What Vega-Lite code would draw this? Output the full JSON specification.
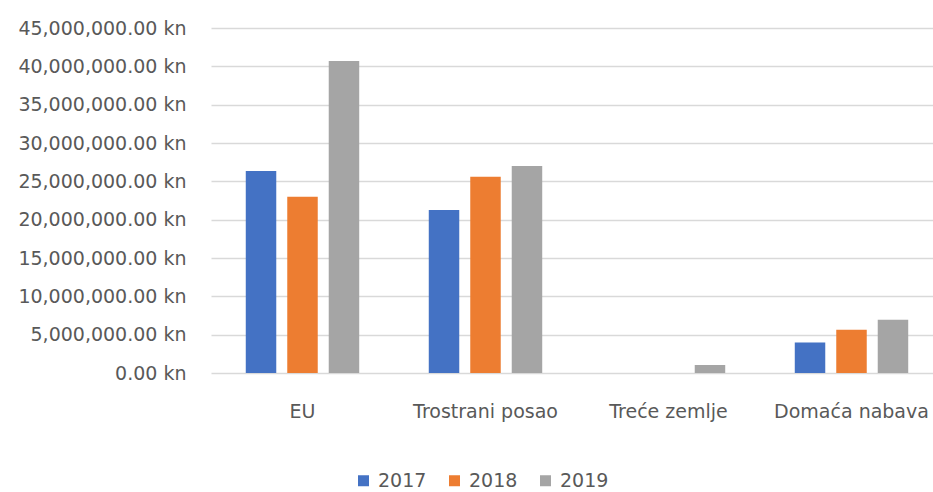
{
  "$schema": "https://vega.github.io/schema/vega-lite/v6.json",
  "autosize": "none",
  "padding": {"left": 211, "top": 28, "right": 0, "bottom": 119},
  "width": 732,
  "height": 345,
  "background": "white",
  "config": {
    "view": {"stroke": null},
    "font": "DejaVu Sans",
    "axis": {"labelColor": "#595959", "labelFont": "DejaVu Sans", "labelFontSize": 19},
    "legend": {"labelColor": "#595959", "labelFont": "DejaVu Sans", "labelFontSize": 19}
  },
  "data": {
    "values": [
      {"category": "EU", "year": "2017", "value": 26340000},
      {"category": "EU", "year": "2018", "value": 22980000},
      {"category": "EU", "year": "2019", "value": 40700000},
      {"category": "Trostrani posao", "year": "2017", "value": 21260000},
      {"category": "Trostrani posao", "year": "2018", "value": 25600000},
      {"category": "Trostrani posao", "year": "2019", "value": 27000000},
      {"category": "Treće zemlje", "year": "2017", "value": 0},
      {"category": "Treće zemlje", "year": "2018", "value": 0},
      {"category": "Treće zemlje", "year": "2019", "value": 1040000},
      {"category": "Domaća nabava", "year": "2017", "value": 3980000},
      {"category": "Domaća nabava", "year": "2018", "value": 5640000},
      {"category": "Domaća nabava", "year": "2019", "value": 6940000}
    ]
  },
  "mark": {"type": "bar"},
  "encoding": {
    "x": {
      "field": "category",
      "type": "nominal",
      "sort": ["EU", "Trostrani posao", "Treće zemlje", "Domaća nabava"],
      "scale": {"paddingInner": 0.38, "paddingOuter": 0.19},
      "axis": {"title": null, "labelAngle": 0, "domain": false, "ticks": false, "labelPadding": 29}
    },
    "xOffset": {
      "field": "year",
      "type": "nominal",
      "sort": ["2017", "2018", "2019"],
      "scale": {"paddingInner": 0.265, "paddingOuter": 0}
    },
    "y": {
      "field": "value",
      "type": "quantitative",
      "scale": {"domain": [0, 45000000], "nice": false},
      "axis": {
        "title": null,
        "values": [0, 5000000, 10000000, 15000000, 20000000, 25000000, 30000000, 35000000, 40000000, 45000000],
        "labelExpr": "format(datum.value, ',.2f') + ' kn'",
        "domain": false,
        "ticks": false,
        "tickSize": 0,
        "labelPadding": 25,
        "gridColor": "#d9d9d9",
        "gridWidth": 1.3
      }
    },
    "color": {
      "field": "year",
      "type": "nominal",
      "sort": ["2017", "2018", "2019"],
      "scale": {"domain": ["2017", "2018", "2019"], "range": ["#4472C4", "#ED7D31", "#A5A5A5"]},
      "legend": {
        "title": null,
        "orient": "none",
        "direction": "horizontal",
        "legendX": 143,
        "legendY": 443,
        "symbolType": "square",
        "symbolSize": 121,
        "symbolStrokeWidth": 0,
        "labelOffset": 5,
        "columnPadding": 18
      }
    }
  }
}
